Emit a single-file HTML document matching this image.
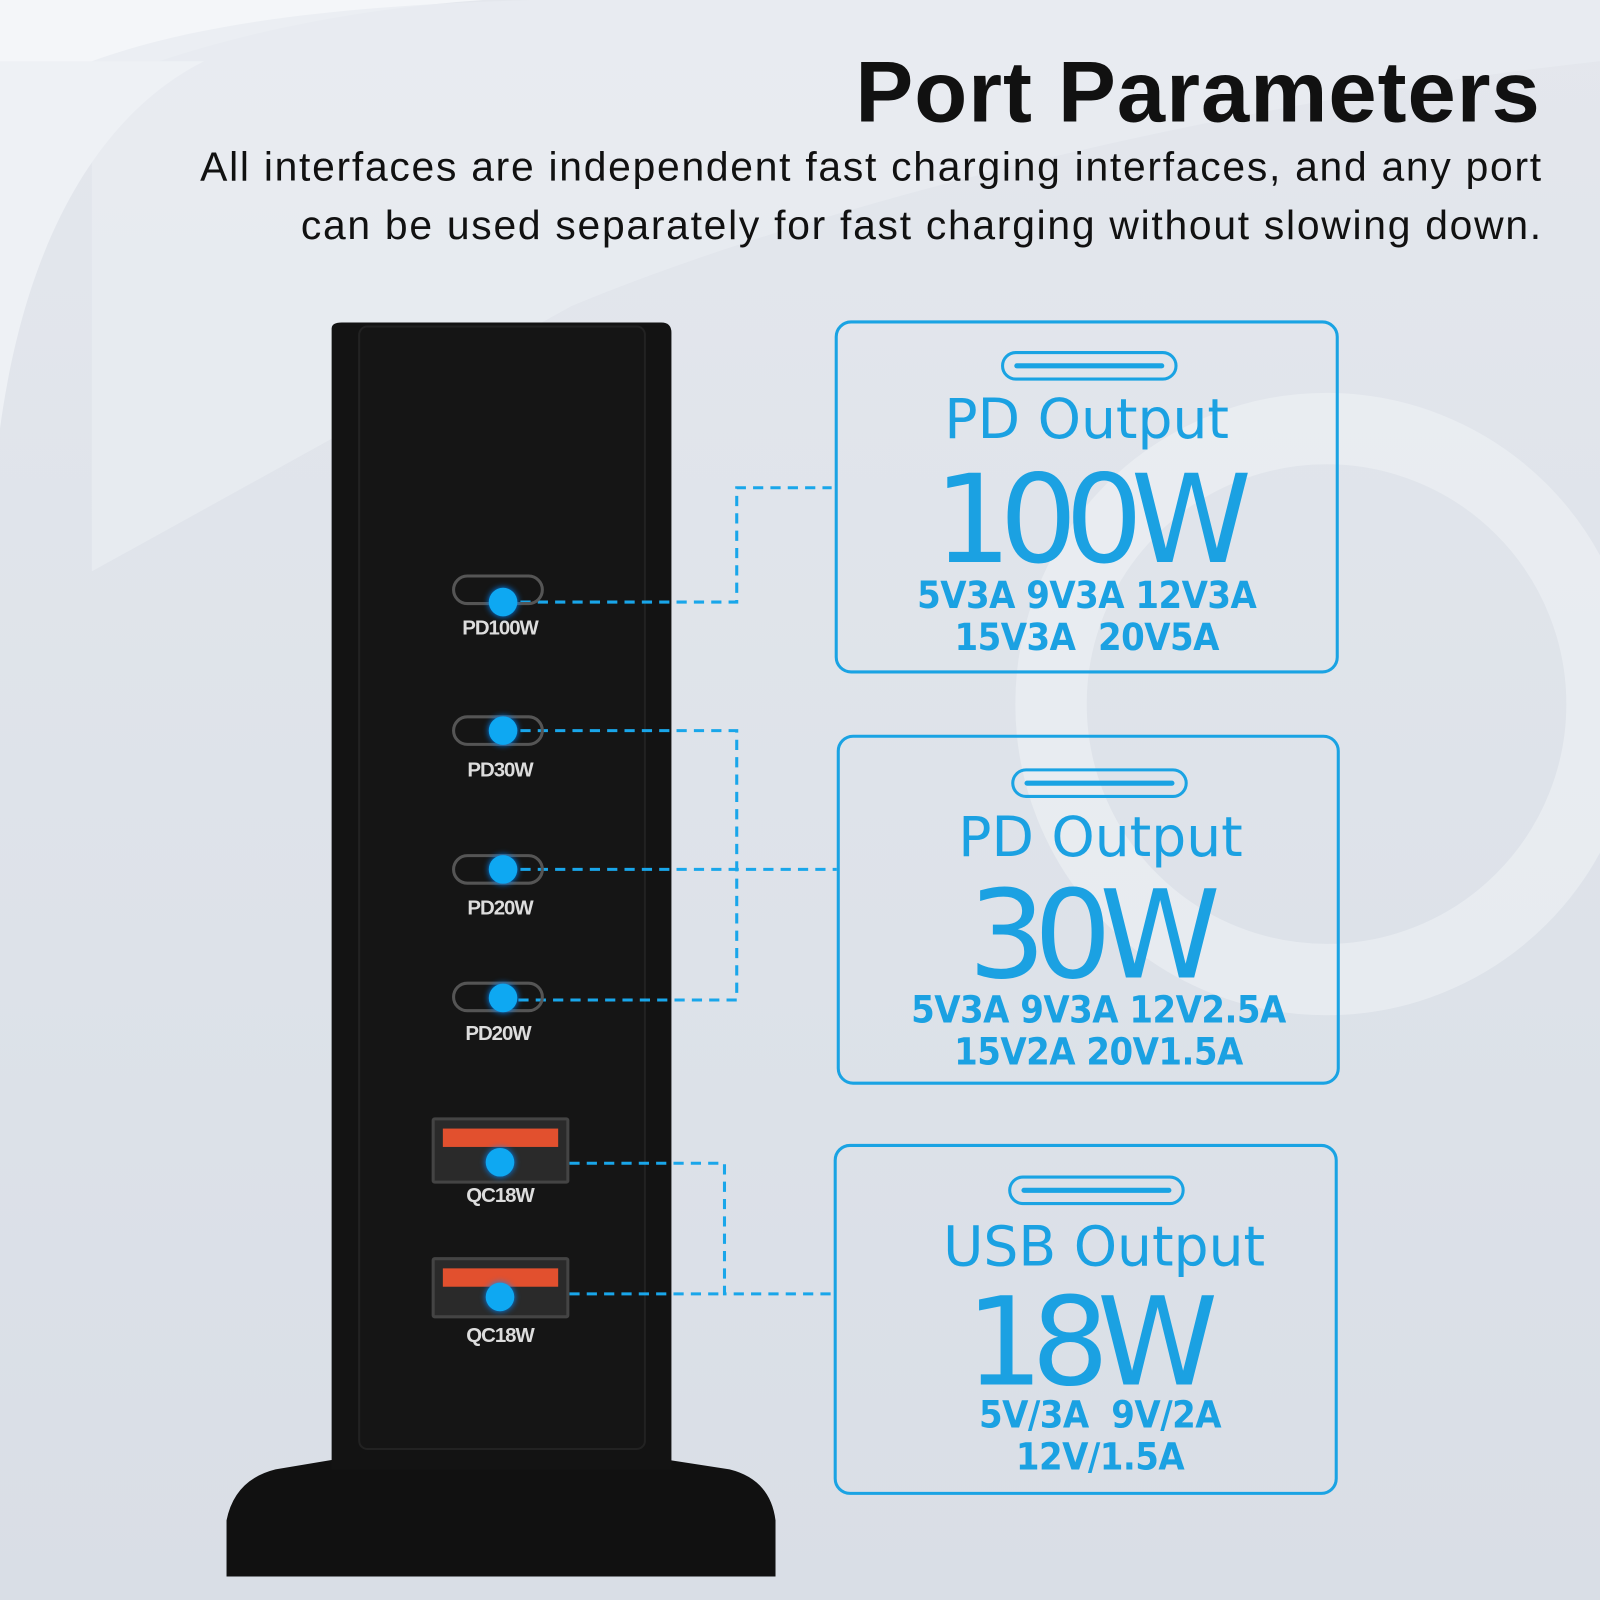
<!DOCTYPE html>
<html><head><meta charset="utf-8"><style>
html,body{margin:0;padding:0;width:1600px;height:1600px;overflow:hidden;background:#e1e5eb}
#w{position:absolute;left:0;top:0;width:1568px;height:1568px;transform:scale(1.020408);transform-origin:0 0;overflow:hidden;
background:linear-gradient(180deg,#e4e7ed 0%,#dde2e9 60%,#d9dee6 100%)}
.a{position:absolute}
.t{font-family:"Liberation Sans",sans-serif;color:#111}
.b{font-family:"DejaVu Sans",sans-serif;color:#1ba1e2;text-align:center;position:absolute;left:0;width:100%;white-space:nowrap}
.s{font-family:"DejaVu Sans Condensed","DejaVu Sans",sans-serif;font-weight:bold;font-size:37px;line-height:41px;letter-spacing:-0.5px}
.p{font-size:54px;letter-spacing:0}
.n{font-size:120px;letter-spacing:-12px;line-height:150px}
.box{position:absolute;border:3px solid #1aa3e3;border-radius:16px;box-sizing:border-box}
.pill{position:absolute;border:3px solid #1aa3e3;border-radius:16px;box-sizing:border-box;height:29px;width:173px}
.pill:after{content:"";position:absolute;left:10px;right:10px;top:9px;height:5px;background:#1aa3e3;border-radius:3px}
.lab{position:absolute;font-family:"Liberation Sans",sans-serif;font-weight:bold;color:#ddd;font-size:20px;width:120px;text-align:center;letter-spacing:-1px}
.c{position:absolute;width:90px;height:30px;border:3px solid #555;border-radius:16px;box-sizing:border-box}
.dot{position:absolute;width:28px;height:28px;border-radius:50%;background:#0ea8f2;box-shadow:0 0 6px #08f}
</style></head><body><div id="w">
<svg class="a" style="left:0;top:0" width="1568" height="1568">
<path d="M0 130 C150 40 400 -20 700 0 L0 0Z" fill="#f4f6f9"/>
<path d="M90 60 C200 20 350 5 520 0 L1568 0 L1568 60 C1200 100 800 200 560 300 L90 560Z" fill="#e9ecf1" opacity=".8"/>
<path d="M0 420 C30 200 120 100 200 60 L0 60Z" fill="#eef1f5"/>
<circle cx="1300" cy="690" r="270" fill="none" stroke="#eef1f5" stroke-width="70" opacity=".6"/>
<path d="M222 1545 L222 1490 Q230 1450 270 1440 L330 1430 L330 1420 L650 1420 L650 1430 L715 1440 Q755 1450 760 1490 L760 1545Z" fill="#111"/>
<path d="M325 322 Q325 316 335 316 L648 316 Q658 316 658 326 L658 1440 L325 1440Z" fill="#131313"/>
<rect x="352" y="320" width="280" height="1100" rx="8" fill="#151515" stroke="#222" stroke-width="2"/>
<g fill="none" stroke="#19a6ea" stroke-width="3" stroke-dasharray="10 7">
<path d="M493 590 H722 V478 H815"/>
<path d="M493 716 H722 V980 H493"/>
<path d="M493 852 H820"/>
<path d="M490 1140 H710 V1268 H815"/>
<path d="M490 1268 H710"/>
</g>
</svg>
<div class="a t" style="right:58px;top:42px;font-size:85px;font-weight:bold;white-space:nowrap;letter-spacing:1px">Port Parameters</div>
<div class="a t" style="right:56px;top:136px;font-size:40px;letter-spacing:1.7px;text-align:right;line-height:57px;white-space:nowrap">All interfaces are independent fast charging interfaces, and any port<br>can be used separately for fast charging without slowing down.</div>

<div class="c" style="left:443px;top:563px"></div><div class="lab" style="left:430px;top:605px">PD100W</div>
<div class="c" style="left:443px;top:701px"></div><div class="lab" style="left:430px;top:744px">PD30W</div>
<div class="c" style="left:443px;top:837px"></div><div class="lab" style="left:430px;top:879px">PD20W</div>
<div class="c" style="left:443px;top:962px"></div><div class="lab" style="left:428px;top:1002px">PD20W</div>
<div class="a" style="left:423px;top:1095px;width:135px;height:65px;border:3px solid #444;box-sizing:border-box;border-radius:3px;background:#2a2a2a"><div class="a" style="left:8px;top:8px;right:8px;height:18px;background:#e2502e"></div></div>
<div class="lab" style="left:430px;top:1161px">QC18W</div>
<div class="a" style="left:423px;top:1232px;width:135px;height:60px;border:3px solid #444;box-sizing:border-box;border-radius:3px;background:#2a2a2a"><div class="a" style="left:8px;top:8px;right:8px;height:18px;background:#e2502e"></div></div>
<div class="lab" style="left:430px;top:1298px">QC18W</div>
<div class="dot" style="left:479px;top:576px"></div>
<div class="dot" style="left:479px;top:702px"></div>
<div class="dot" style="left:479px;top:838px"></div>
<div class="dot" style="left:479px;top:964px"></div>
<div class="dot" style="left:476px;top:1125px"></div>
<div class="dot" style="left:476px;top:1257px"></div>

<div class="box" style="left:818px;top:314px;width:494px;height:346px">
 <div class="pill" style="left:160px;top:27px"></div>
 <div class="b p" style="top:62px;left:0px">PD Output</div>
 <div class="b n" style="top:119px;left:0px">100W</div>
 <div class="b s" style="top:246px;left:0px">5V3A 9V3A 12V3A<br>15V3A&nbsp; 20V5A</div>
</div>
<div class="box" style="left:820px;top:720px;width:493px;height:343px">
 <div class="pill" style="left:168px;top:30px"></div>
 <div class="b p" style="top:66px;left:12px">PD Output</div>
 <div class="b n" style="top:120px;left:0px">30W</div>
 <div class="b s" style="top:246px;left:10px">5V3A 9V3A 12V2.5A<br>15V2A 20V1.5A</div>
</div>
<div class="box" style="left:817px;top:1121px;width:494px;height:344px">
 <div class="pill" style="left:168px;top:28px"></div>
 <div class="b p" style="top:66px;left:18px">USB Output</div>
 <div class="b n" style="top:118px;left:0px">18W</div>
 <div class="b s" style="top:242px;left:14px">5V/3A&nbsp; 9V/2A<br>12V/1.5A</div>
</div>
</div></body></html>
